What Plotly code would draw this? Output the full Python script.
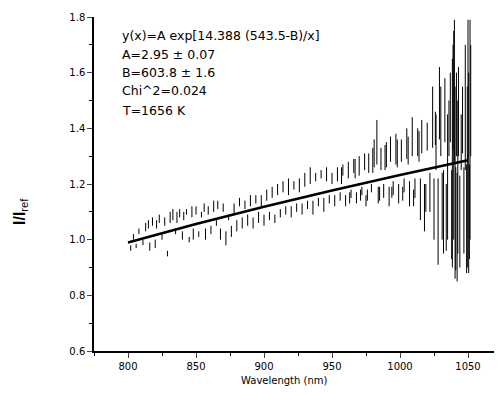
import plotly.graph_objects as go

# Measured spectrum drawn as vertical dashes: wavelength (nm), lower and upper I/I_ref
seg_wl = [802, 804, 806, 808, 811, 813, 815, 816, 818, 820, 821, 823, 825, 827, 829,
          831, 833, 835, 836, 838, 840, 841, 843, 845, 847, 848, 850, 852, 854, 856,
          857, 859, 861, 863, 865, 866, 868, 870, 872, 874, 876, 878, 880, 882, 884,
          886, 888, 890, 892, 894, 896, 898, 900, 902, 904, 906, 908, 910, 912, 914,
          916, 918, 920, 922, 924, 926, 928, 930, 932, 934, 936, 938, 940, 942, 944,
          946, 948, 950, 952, 954, 956, 958, 960, 962, 964, 966, 968, 970, 972, 974,
          976, 977, 979, 981, 983, 984, 986, 988, 990, 992, 993, 995, 997, 999, 1001,
          1003, 1005, 1007, 1009, 1011, 1013, 1015, 1016, 1018, 1020, 1022, 1024, 1025, 1026, 1028,
          1029, 1031, 1033, 1034, 1036, 1038, 1039, 1040, 1041, 1042, 1043, 1044, 1046, 1047, 1049,
          1050, 1051, 1052,
          957, 963, 967, 971, 975, 980, 985, 989, 994, 998, 1002, 1006, 1010, 1014, 1019,
          1026.5, 1030, 1032, 1035, 1037, 1038.5, 1039.5, 1040.5, 1041.5, 1042.5, 1045, 1048,
          1049.5, 1050.5, 1051.5]
seg_lo = [0.96, 1.00, 0.97, 1.02, 0.98, 1.03, 1.04, 0.96, 1.05, 0.97, 1.04, 1.06, 1.00, 1.05, 0.94,
          1.06, 1.07, 1.02, 1.06, 1.08, 1.00, 1.07, 1.09, 0.99, 1.08, 1.00, 1.09, 1.01, 1.08, 1.10,
          1.00, 1.09, 1.02, 1.10, 1.05, 1.11, 1.00, 1.10, 0.98, 1.07, 1.01, 1.09, 1.03, 1.12, 1.04,
          1.11, 1.05, 1.12, 1.04, 1.13, 1.06, 1.12, 1.05, 1.14, 1.07, 1.15, 1.06, 1.16, 1.08, 1.17,
          1.09, 1.16, 1.08, 1.18, 1.10, 1.17, 1.09, 1.19, 1.11, 1.20, 1.09, 1.21, 1.12, 1.22, 1.10,
          1.21, 1.13, 1.20, 1.12, 1.21, 1.14, 1.23, 1.12, 1.22, 1.15, 1.24, 1.13, 1.23, 1.16, 1.25,
          1.14, 1.24, 1.17, 1.26, 1.27, 1.13, 1.25, 1.15, 1.26, 1.12, 1.28, 1.16, 1.27, 1.13, 1.28,
          1.17, 1.29, 1.12, 1.30, 1.15, 1.30, 1.07, 1.31, 1.03, 1.32, 1.10, 1.33, 1.00, 1.34, 0.91,
          1.36, 1.00, 1.35, 0.96, 1.30, 0.93, 1.32, 1.28, 0.89, 0.85, 1.30, 0.90, 1.31, 0.95, 0.88,
          1.29, 0.93, 1.30,
          1.20, 1.13, 1.22, 1.14, 1.12, 1.24, 1.14, 1.25, 1.15, 1.26, 1.14, 1.27, 1.12, 1.28, 1.10,
          1.25, 1.30, 0.95, 1.00, 1.35, 0.90, 1.00, 0.86, 1.30, 0.95, 1.25, 1.25,
          0.90, 0.88, 1.00]
seg_hi = [0.98, 1.02, 0.985, 1.04, 1.00, 1.06, 1.07, 0.99, 1.08, 1.00, 1.07, 1.09, 1.02, 1.08, 0.96,
          1.10, 1.11, 1.04, 1.10, 1.11, 1.03, 1.10, 1.11, 1.01, 1.12, 1.04, 1.12, 1.03, 1.10, 1.13,
          1.04, 1.12, 1.05, 1.14, 1.07, 1.14, 1.04, 1.13, 1.03, 1.09, 1.05, 1.13, 1.07, 1.15, 1.08,
          1.14, 1.09, 1.16, 1.08, 1.16, 1.10, 1.16, 1.09, 1.18, 1.10, 1.19, 1.09, 1.20, 1.11, 1.21,
          1.12, 1.22, 1.12, 1.21, 1.13, 1.22, 1.13, 1.24, 1.14, 1.26, 1.14, 1.24, 1.15, 1.25, 1.15,
          1.26, 1.16, 1.24, 1.16, 1.26, 1.17, 1.27, 1.16, 1.28, 1.18, 1.29, 1.17, 1.30, 1.19, 1.31,
          1.18, 1.31, 1.20, 1.36, 1.43, 1.19, 1.33, 1.20, 1.35, 1.19, 1.37, 1.21, 1.38, 1.20, 1.36,
          1.22, 1.40, 1.21, 1.44, 1.22, 1.40, 1.22, 1.43, 1.20, 1.42, 1.24, 1.55, 1.22, 1.46, 1.22,
          1.62, 1.24, 1.58, 1.20, 1.50, 1.25, 1.70, 1.79, 1.26, 1.24, 1.62, 1.23, 1.55, 1.26, 1.27,
          1.79, 1.27, 1.70,
          1.26, 1.17, 1.29, 1.18, 1.16, 1.33, 1.19, 1.34, 1.19, 1.36, 1.19, 1.37, 1.18, 1.39, 1.20,
          1.45, 1.55, 1.25, 1.45, 1.60, 1.65, 1.75, 1.55, 1.60, 1.50, 1.45, 1.70,
          1.55, 1.60, 1.79]

# Fitted curve
fit_wl = [800, 850, 900, 950, 1000, 1050]
fit_ratio = [0.990, 1.056, 1.118, 1.177, 1.232, 1.285]

fit_lines = [
    "y(x)=A exp[14.388 (543.5-B)/x]",
    "A=2.95 \u00b1 0.07",
    "B=603.8 \u00b1 1.6",
    "Chi^2=0.024",
    "T=1656 K",
]

x_ticks = [800, 850, 900, 950, 1000, 1050]
y_ticks = [0.6, 0.8, 1.0, 1.2, 1.4, 1.6, 1.8]

FONT = "Liberation Sans, Arial, sans-serif"
WIDE = "DejaVu Sans, Verdana, sans-serif"

# Build the dash path (None breaks between dashes)
dash_x, dash_y = [], []
for w, lo, hi in zip(seg_wl, seg_lo, seg_hi):
    dash_x += [w, w, None]
    dash_y += [lo, hi, None]

fig = go.Figure()
fig.add_trace(go.Scatter(x=dash_x, y=dash_y, mode="lines", connectgaps=False,
                         line=dict(color="black", width=1.0), showlegend=False))
fig.add_trace(go.Scatter(x=fit_wl, y=fit_ratio, mode="lines",
                         line=dict(color="black", width=2.6), showlegend=False))

# page body has an 8px margin: compensate so the picture lands where the reference is
OFF = 8
W, H = 494, 378
L, T = 94 - OFF, 17 - OFF
pw, ph = 408, 334
R = W - L - pw
B = H - T - ph

def px(xp):
    return (xp - OFF - L) / pw

def py(yp):
    return (T + ph - (yp - OFF)) / ph

line_y = [36, 54, 72, 91, 110]
for txt, yy in zip(fit_lines, line_y):
    fig.add_annotation(text=txt, xref="paper", yref="paper", x=px(120), y=py(yy),
                       xanchor="left", yanchor="middle", showarrow=False,
                       font=dict(family=WIDE, size=12.5, color="black"))

fig.add_annotation(text="<b>I/I</b><sub>ref</sub>", xref="paper", yref="paper",
                   x=px(20), y=py(212), textangle=-90, showarrow=False,
                   xanchor="center", yanchor="middle",
                   font=dict(family=FONT, size=16, color="black"))
fig.add_annotation(text="Wavelength (nm)", xref="paper", yref="paper",
                   x=px(284), y=py(380), showarrow=False,
                   xanchor="center", yanchor="middle",
                   font=dict(family=WIDE, size=10, color="black"))

fig.update_layout(
    width=W, height=H,
    margin=dict(l=L, r=R, t=T, b=B, autoexpand=False),
    paper_bgcolor="white", plot_bgcolor="white",
    font=dict(family=WIDE, size=10, color="black"),
)
fig.update_xaxes(range=[775, 1075], tickvals=x_ticks, ticks="outside", ticklen=5,
                 tickwidth=1.2, showline=True, linecolor="black", linewidth=1.5,
                 showgrid=False, zeroline=False, mirror=False, automargin=False,
                 minor=dict(dtick=25, tick0=800, ticks="outside", ticklen=3, tickcolor="black"),
                 tickfont=dict(size=10))
fig.update_yaxes(range=[0.6, 1.8], tickvals=y_ticks, tickformat=".1f", ticks="outside",
                 ticklen=5, tickwidth=1.2, showline=True, linecolor="black", linewidth=1.5,
                 showgrid=False, zeroline=False, mirror=False, automargin=False,
                 minor=dict(dtick=0.1, tick0=0.6, ticks="outside", ticklen=3, tickcolor="black"),
                 tickfont=dict(size=10))

fig.write_html("out.html")
